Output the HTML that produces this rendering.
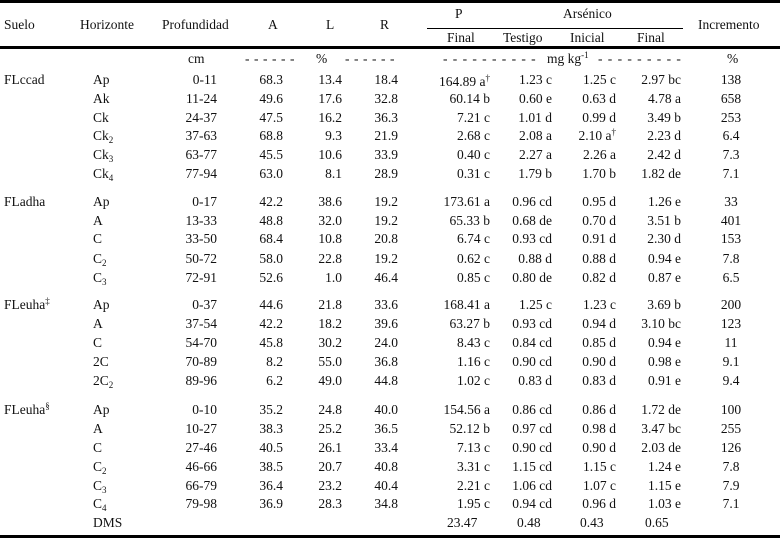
<!DOCTYPE html>
<html><head><meta charset="utf-8"><style>
body{margin:0;background:#fff;}
#c{position:relative;width:780px;height:538px;overflow:hidden;font-family:"Liberation Serif",serif;font-size:13.5px;color:#111;}
.ln{position:absolute;background:#000;}
.r{position:absolute;left:0;width:780px;height:16px;line-height:16px;}
.r span{position:absolute;white-space:nowrap;}
.s{left:4px}.h{left:93px}.p{right:563px}.a{right:497px}.l{right:438px}.rr{right:382px}
.pf{right:290px}.t{right:228px}.i{right:164px}.f{right:99px}.inc{left:731px;transform:translateX(-50%)}
sub{font-size:9px;vertical-align:-3px;line-height:0}
sup{font-size:9px;vertical-align:5px;line-height:0}
.hd{position:absolute;white-space:nowrap;line-height:16px;}
.d9{letter-spacing:4.5px}.d10{letter-spacing:5.3px}
</style></head><body><div id="c">
<div class="ln" style="left:0;top:0;width:780px;height:3px"></div>
<div class="ln" style="left:427px;top:28px;width:256px;height:1px"></div>
<div class="ln" style="left:0;top:46px;width:780px;height:3px"></div>
<div class="ln" style="left:0;top:535px;width:780px;height:3px"></div>

<div class="hd" style="left:4px;top:17px">Suelo</div>
<div class="hd" style="left:80px;top:17px">Horizonte</div>
<div class="hd" style="left:162px;top:17px">Profundidad</div>
<div class="hd" style="left:268px;top:17px">A</div>
<div class="hd" style="left:326px;top:17px">L</div>
<div class="hd" style="left:380px;top:17px">R</div>
<div class="hd" style="left:455px;top:6px">P</div>
<div class="hd" style="left:563px;top:6px">Arsénico</div>
<div class="hd" style="left:698px;top:17px">Incremento</div>
<div class="hd" style="left:447px;top:30px">Final</div>
<div class="hd" style="left:503px;top:30px">Testigo</div>
<div class="hd" style="left:570px;top:30px">Inicial</div>
<div class="hd" style="left:637px;top:30px">Final</div>

<div class="hd" style="left:188px;top:51px">cm</div>
<div class="hd d9" style="left:245px;top:51px">------</div>
<div class="hd" style="left:316px;top:51px">%</div>
<div class="hd d9" style="left:345px;top:51px">------</div>
<div class="hd d10" style="left:443px;top:51px">----------</div>
<div class="hd" style="left:547px;top:51px">mg kg<sup>-1</sup></div>
<div class="hd d10" style="left:598px;top:51px">---------</div>
<div class="hd" style="left:727px;top:51px">%</div>

<div class="r" style="top:72px"><span class="s">FLccad</span><span class="h">Ap</span><span class="p">0-11</span><span class="a">68.3</span><span class="l">13.4</span><span class="rr">18.4</span><span class="pf" style="top:2px">164.89 a<sup>†</sup></span><span class="t">1.23 c</span><span class="i">1.25 c</span><span class="f">2.97 bc</span><span class="inc">138</span></div>
<div class="r" style="top:91px"><span class="h">Ak</span><span class="p">11-24</span><span class="a">49.6</span><span class="l">17.6</span><span class="rr">32.8</span><span class="pf">60.14 b</span><span class="t">0.60 e</span><span class="i">0.63 d</span><span class="f">4.78 a</span><span class="inc">658</span></div>
<div class="r" style="top:110px"><span class="h">Ck</span><span class="p">24-37</span><span class="a">47.5</span><span class="l">16.2</span><span class="rr">36.3</span><span class="pf">7.21 c</span><span class="t">1.01 d</span><span class="i">0.99 d</span><span class="f">3.49 b</span><span class="inc">253</span></div>
<div class="r" style="top:128px"><span class="h">Ck<sub>2</sub></span><span class="p">37-63</span><span class="a">68.8</span><span class="l">9.3</span><span class="rr">21.9</span><span class="pf">2.68 c</span><span class="t">2.08 a</span><span class="i">2.10 a<sup>†</sup></span><span class="f">2.23 d</span><span class="inc">6.4</span></div>
<div class="r" style="top:147px"><span class="h">Ck<sub>3</sub></span><span class="p">63-77</span><span class="a">45.5</span><span class="l">10.6</span><span class="rr">33.9</span><span class="pf">0.40 c</span><span class="t">2.27 a</span><span class="i">2.26 a</span><span class="f">2.42 d</span><span class="inc">7.3</span></div>
<div class="r" style="top:166px"><span class="h">Ck<sub>4</sub></span><span class="p">77-94</span><span class="a">63.0</span><span class="l">8.1</span><span class="rr">28.9</span><span class="pf">0.31 c</span><span class="t">1.79 b</span><span class="i">1.70 b</span><span class="f">1.82 de</span><span class="inc">7.1</span></div>

<div class="r" style="top:194px"><span class="s">FLadha</span><span class="h">Ap</span><span class="p">0-17</span><span class="a">42.2</span><span class="l">38.6</span><span class="rr">19.2</span><span class="pf">173.61 a</span><span class="t">0.96 cd</span><span class="i">0.95 d</span><span class="f">1.26 e</span><span class="inc">33</span></div>
<div class="r" style="top:213px"><span class="h">A</span><span class="p">13-33</span><span class="a">48.8</span><span class="l">32.0</span><span class="rr">19.2</span><span class="pf">65.33 b</span><span class="t">0.68 de</span><span class="i">0.70 d</span><span class="f">3.51 b</span><span class="inc">401</span></div>
<div class="r" style="top:231px"><span class="h">C</span><span class="p">33-50</span><span class="a">68.4</span><span class="l">10.8</span><span class="rr">20.8</span><span class="pf">6.74 c</span><span class="t">0.93 cd</span><span class="i">0.91 d</span><span class="f">2.30 d</span><span class="inc">153</span></div>
<div class="r" style="top:251px"><span class="h">C<sub>2</sub></span><span class="p">50-72</span><span class="a">58.0</span><span class="l">22.8</span><span class="rr">19.2</span><span class="pf">0.62 c</span><span class="t">0.88 d</span><span class="i">0.88 d</span><span class="f">0.94 e</span><span class="inc">7.8</span></div>
<div class="r" style="top:270px"><span class="h">C<sub>3</sub></span><span class="p">72-91</span><span class="a">52.6</span><span class="l">1.0</span><span class="rr">46.4</span><span class="pf">0.85 c</span><span class="t">0.80 de</span><span class="i">0.82 d</span><span class="f">0.87 e</span><span class="inc">6.5</span></div>

<div class="r" style="top:297px"><span class="s">FLeuha<sup>‡</sup></span><span class="h">Ap</span><span class="p">0-37</span><span class="a">44.6</span><span class="l">21.8</span><span class="rr">33.6</span><span class="pf">168.41 a</span><span class="t">1.25 c</span><span class="i">1.23 c</span><span class="f">3.69 b</span><span class="inc">200</span></div>
<div class="r" style="top:316px"><span class="h">A</span><span class="p">37-54</span><span class="a">42.2</span><span class="l">18.2</span><span class="rr">39.6</span><span class="pf">63.27 b</span><span class="t">0.93 cd</span><span class="i">0.94 d</span><span class="f">3.10 bc</span><span class="inc">123</span></div>
<div class="r" style="top:335px"><span class="h">C</span><span class="p">54-70</span><span class="a">45.8</span><span class="l">30.2</span><span class="rr">24.0</span><span class="pf">8.43 c</span><span class="t">0.84 cd</span><span class="i">0.85 d</span><span class="f">0.94 e</span><span class="inc">11</span></div>
<div class="r" style="top:354px"><span class="h">2C</span><span class="p">70-89</span><span class="a">8.2</span><span class="l">55.0</span><span class="rr">36.8</span><span class="pf">1.16 c</span><span class="t">0.90 cd</span><span class="i">0.90 d</span><span class="f">0.98 e</span><span class="inc">9.1</span></div>
<div class="r" style="top:373px"><span class="h">2C<sub>2</sub></span><span class="p">89-96</span><span class="a">6.2</span><span class="l">49.0</span><span class="rr">44.8</span><span class="pf">1.02 c</span><span class="t">0.83 d</span><span class="i">0.83 d</span><span class="f">0.91 e</span><span class="inc">9.4</span></div>

<div class="r" style="top:402px"><span class="s">FLeuha<sup>§</sup></span><span class="h">Ap</span><span class="p">0-10</span><span class="a">35.2</span><span class="l">24.8</span><span class="rr">40.0</span><span class="pf">154.56 a</span><span class="t">0.86 cd</span><span class="i">0.86 d</span><span class="f">1.72 de</span><span class="inc">100</span></div>
<div class="r" style="top:421px"><span class="h">A</span><span class="p">10-27</span><span class="a">38.3</span><span class="l">25.2</span><span class="rr">36.5</span><span class="pf">52.12 b</span><span class="t">0.97 cd</span><span class="i">0.98 d</span><span class="f">3.47 bc</span><span class="inc">255</span></div>
<div class="r" style="top:440px"><span class="h">C</span><span class="p">27-46</span><span class="a">40.5</span><span class="l">26.1</span><span class="rr">33.4</span><span class="pf">7.13 c</span><span class="t">0.90 cd</span><span class="i">0.90 d</span><span class="f">2.03 de</span><span class="inc">126</span></div>
<div class="r" style="top:459px"><span class="h">C<sub>2</sub></span><span class="p">46-66</span><span class="a">38.5</span><span class="l">20.7</span><span class="rr">40.8</span><span class="pf">3.31 c</span><span class="t">1.15 cd</span><span class="i">1.15 c</span><span class="f">1.24 e</span><span class="inc">7.8</span></div>
<div class="r" style="top:478px"><span class="h">C<sub>3</sub></span><span class="p">66-79</span><span class="a">36.4</span><span class="l">23.2</span><span class="rr">40.4</span><span class="pf">2.21 c</span><span class="t">1.06 cd</span><span class="i">1.07 c</span><span class="f">1.15 e</span><span class="inc">7.9</span></div>
<div class="r" style="top:496px"><span class="h">C<sub>4</sub></span><span class="p">79-98</span><span class="a">36.9</span><span class="l">28.3</span><span class="rr">34.8</span><span class="pf">1.95 c</span><span class="t">0.94 cd</span><span class="i">0.96 d</span><span class="f">1.03 e</span><span class="inc">7.1</span></div>
<div class="r" style="top:515px"><span class="h">DMS</span><span style="left:447px">23.47</span><span style="left:517px">0.48</span><span style="left:580px">0.43</span><span style="left:645px">0.65</span></div>
</div></body></html>
